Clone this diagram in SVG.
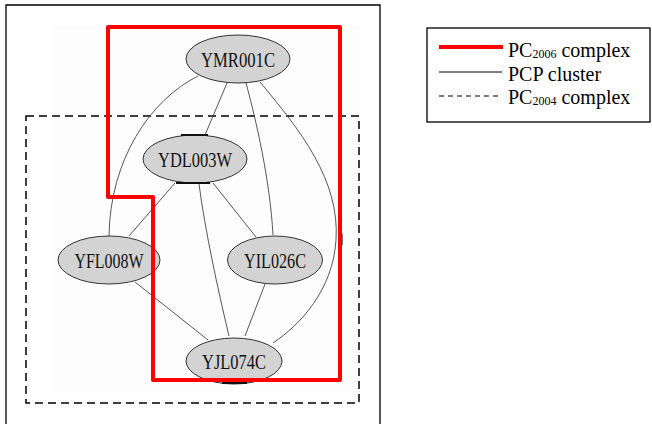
<svg xmlns="http://www.w3.org/2000/svg" width="652" height="424" viewBox="0 0 652 424">
<style>
.frame{fill:none;stroke:#000;stroke-width:1.3}
.edge{fill:none;stroke:#444;stroke-width:0.9}
.node ellipse{fill:#d3d3d3;stroke:#333;stroke-width:1}
.node text{font-family:"Liberation Serif","Times New Roman",serif;font-size:21px;fill:#111;text-anchor:middle}
.mark{stroke:#111;stroke-width:2}
.leg{font-family:"Liberation Serif","Times New Roman",serif;font-size:20px;fill:#000}
.sub{font-size:12px}
.red{fill:none;stroke:#ff0000;stroke-width:4;stroke-linejoin:round}
.dash{fill:none;stroke:#000;stroke-width:1.5;stroke-dasharray:8 5}
</style>
<rect width="652" height="424" fill="#fff"/>
<rect x="52" y="25" width="310" height="367" fill="#fdfdfd"/>
<path class="frame" d="M6,426 V5 H380 V426"/>
<rect class="dash" x="26" y="116" width="333" height="287"/>
<g id="connectors">
<path class="edge" d="M227,83 L205,135"/>
<path class="edge" d="M198,76 C150,100 110,160 109,236"/>
<path class="edge" d="M246,83 C256,120 270,180 273,235"/>
<path class="edge" d="M260,82 C300,130 340,180 336,240 C333,290 300,325 273,343"/>
<path class="edge" d="M175,183 L129,236"/>
<path class="edge" d="M213,183 L256,237"/>
<path class="edge" d="M199,184 C205,230 218,290 229,336"/>
<path class="edge" d="M135,282 L208,340"/>
<path class="edge" d="M265,284 L245,336"/>
</g>
<g id="node-YMR001C" class="node">
<ellipse cx="238" cy="59" rx="52" ry="24"/>
<text x="238" y="67" textLength="74" lengthAdjust="spacingAndGlyphs">YMR001C</text>
</g>
<g id="node-YDL003W" class="node">
<ellipse cx="195" cy="159" rx="52" ry="24"/>
<line class="mark" x1="181" y1="135" x2="208" y2="135"/>
<line class="mark" x1="176" y1="183" x2="210" y2="183"/>
<text x="195" y="167" textLength="74" lengthAdjust="spacingAndGlyphs">YDL003W</text>
</g>
<g id="node-YFL008W" class="node">
<ellipse cx="109" cy="260" rx="51" ry="24"/>
<text x="109" y="268" textLength="69" lengthAdjust="spacingAndGlyphs">YFL008W</text>
</g>
<g id="node-YIL026C" class="node">
<ellipse cx="275" cy="260" rx="47.5" ry="24"/>
<text x="275" y="268" textLength="62" lengthAdjust="spacingAndGlyphs">YIL026C</text>
</g>
<g id="node-YJL074C" class="node">
<ellipse cx="234" cy="361" rx="48" ry="23"/>
<line class="mark" x1="222" y1="383" x2="247" y2="383"/>
<text x="234" y="369" textLength="64" lengthAdjust="spacingAndGlyphs">YJL074C</text>
</g>
<line class="mark" x1="342" y1="234" x2="342" y2="245" style="stroke-width:1.2"/>
<path class="red" d="M108,27 H340 V380 H153 V197 H108 Z"/>
<g id="legend">
<rect x="427" y="28" width="223" height="94" fill="#fff" stroke="#000" stroke-width="1.3"/>
<line x1="439" y1="47" x2="503" y2="47" stroke="#ff0000" stroke-width="4"/>
<line x1="439" y1="72" x2="502" y2="72" stroke="#000" stroke-width="1.2"/>
<line x1="439" y1="96" x2="502" y2="96" stroke="#000" stroke-width="1.2" stroke-dasharray="5 4"/>
<text class="leg" x="508" y="57">PC<tspan class="sub" dy="1">2006</tspan><tspan dy="-1"> complex</tspan></text>
<text class="leg" x="508" y="81">PCP cluster</text>
<text class="leg" x="508" y="104">PC<tspan class="sub" dy="1">2004</tspan><tspan dy="-1"> complex</tspan></text>
</g>
</svg>
